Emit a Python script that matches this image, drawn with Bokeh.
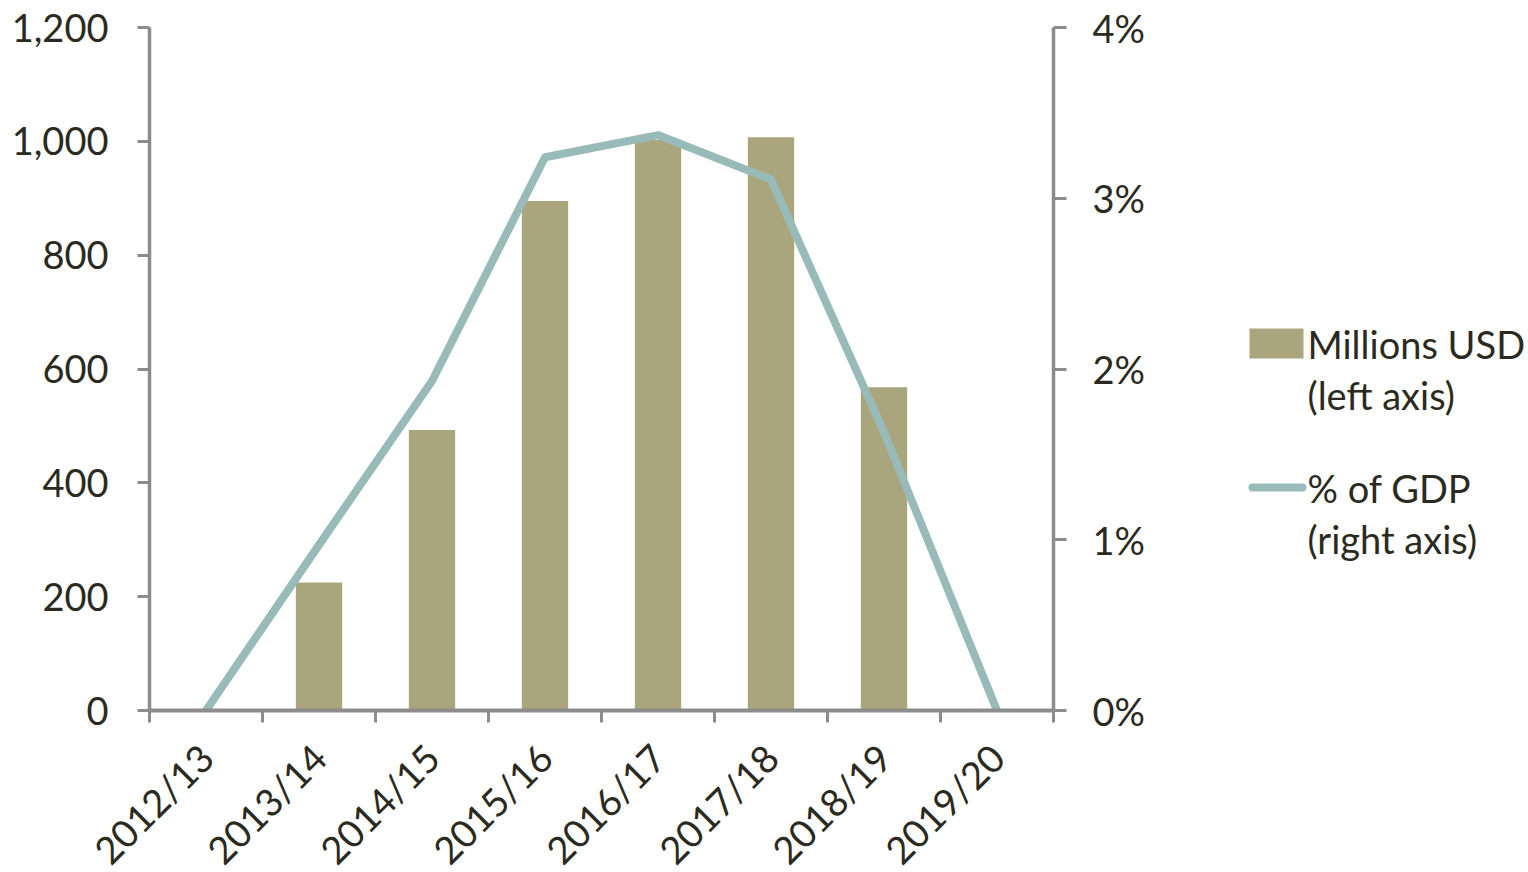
from bokeh.plotting import figure
from bokeh.layouts import row
from bokeh.models import (Range1d, LinearAxis, FixedTicker, NumeralTickFormatter,
                          PrintfTickFormatter)
from bokeh.core.properties import value
from bokeh.embed import file_html
from bokeh.resources import INLINE
import math

# Fiscal years and series
categories = ["2012/13", "2013/14", "2014/15", "2015/16",
              "2016/17", "2017/18", "2018/19", "2019/20"]
millions_usd = [0, 225, 493, 895, 1003, 1007, 568, 0]
pct_gdp = [0.0, 0.97, 1.93, 3.24, 3.37, 3.11, 1.63, 0.0]
left_ticks = [0, 200, 400, 600, 800, 1000, 1200]
right_ticks = [0, 1, 2, 3, 4]

BAR = "#A9A67D"
LINE = "#98BBBA"
AXIS = "#8C8C8C"
TEXT = "#2B2A20"
FONT = "Lato"
FS = "38px"

centers = list(range(1, len(categories) + 1))
bounds = [c - 0.5 for c in centers] + [centers[-1] + 0.5]

# canvas a little taller than the page so the slanted labels get their full box;
# the row's CSS crops it back to 872 px
H = 900
p = figure(width=1240, height=H, output_backend="svg", toolbar_location=None,
           x_range=Range1d(0.5, len(categories) + 0.5), y_range=Range1d(0, 1200),
           min_border_left=149, min_border_right=187, min_border_top=27,
           min_border_bottom=H - 710, x_axis_location="below", y_axis_location="left")
p.extra_y_ranges = {"pct": Range1d(0, 4)}
p.outline_line_color = None
p.xgrid.visible = False
p.ygrid.visible = False
p.background_fill_color = "white"
p.border_fill_color = "white"

p.vbar(x=centers, top=millions_usd, width=0.41, bottom=0,
       fill_color=BAR, line_color=None)
p.line(x=centers, y=pct_gdp, y_range_name="pct", line_color=LINE,
       line_width=8, line_join="round")

# bottom axis: year labels at the centres, tick marks between years
xa = p.xaxis[0]
xa.ticker = FixedTicker(ticks=centers, minor_ticks=bounds)
xa.major_label_overrides = {c: lab for c, lab in zip(centers, categories)}
xa.major_label_orientation = math.pi / 4
xa.major_tick_out = 0
xa.major_tick_in = 0
xa.minor_tick_out = 12
xa.minor_tick_in = 0
xa.minor_tick_line_color = AXIS
xa.minor_tick_line_width = 3
xa.axis_line_color = AXIS
xa.axis_line_width = 4
xa.major_label_standoff = 28
xa.major_label_text_font = FONT
xa.major_label_text_font_size = FS
xa.major_label_text_color = TEXT

# left axis: millions USD
ya = p.yaxis[0]
ya.ticker = FixedTicker(ticks=left_ticks)
ya.formatter = NumeralTickFormatter(format="0,0")
ya.axis_line_color = AXIS
ya.axis_line_width = 3.5
ya.major_tick_line_color = AXIS
ya.major_tick_line_width = 3
ya.major_tick_out = 12
ya.major_tick_in = 0
ya.minor_tick_line_color = None
ya.major_label_standoff = 29
ya.major_label_text_font = FONT
ya.major_label_text_font_size = FS
ya.major_label_text_color = TEXT

# right axis: share of GDP
ra = LinearAxis(y_range_name="pct", ticker=FixedTicker(ticks=right_ticks),
                formatter=PrintfTickFormatter(format="%d%%"))
ra.axis_line_color = AXIS
ra.axis_line_width = 3.5
ra.major_tick_line_color = AXIS
ra.major_tick_line_width = 3
ra.major_tick_out = 13
ra.major_tick_in = 0
ra.minor_tick_line_color = None
ra.major_label_standoff = 26
ra.major_label_text_font = FONT
ra.major_label_text_font_size = FS
ra.major_label_text_color = TEXT
p.add_layout(ra, "right")

# legend panel; its frame lines up with the chart frame (pixel rows 27..710)
lg = figure(width=288, height=H, output_backend="svg", toolbar_location=None,
            x_range=Range1d(0, 288), y_range=Range1d(710, 27),
            min_border=0, x_axis_location=None, y_axis_location=None)
lg.outline_line_color = None
lg.xgrid.visible = False
lg.ygrid.visible = False
lg.quad(left=[9], right=[63], top=[328], bottom=[358], fill_color=BAR, line_color=None)
lg.line(x=[12, 62], y=[487, 487], line_color=LINE, line_width=8, line_cap="round")
lg.text(x=[67, 67, 67, 67], y=[343, 394, 487, 538],
        text=["Millions USD", "(left axis)", "% of GDP", "(right axis)"],
        text_baseline="middle", text_align="left", text_font=value(FONT),
        text_font_size=FS, text_color=TEXT)

layout = row(p, lg, styles={"max-height": "872px", "overflow": "hidden"})
open("out.html", "w").write(file_html(layout, INLINE))
